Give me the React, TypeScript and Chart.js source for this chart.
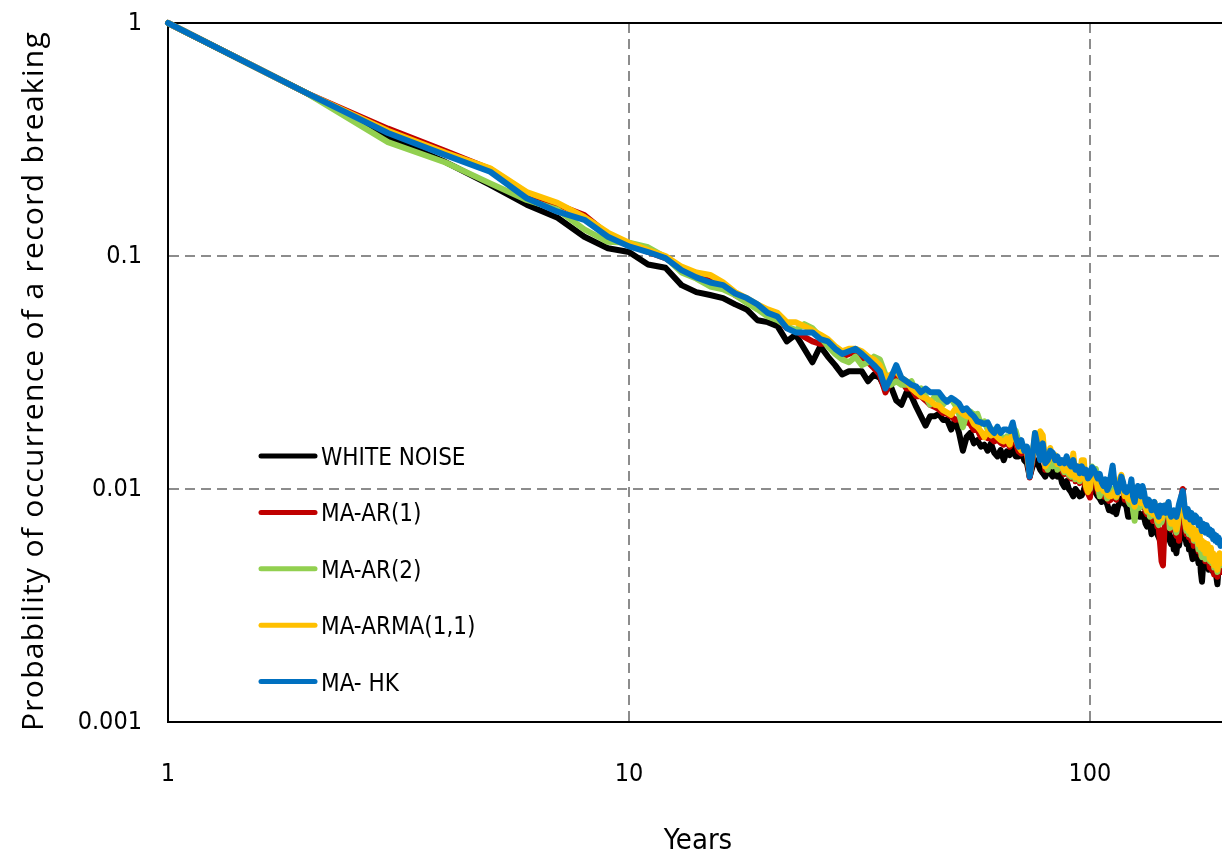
import React, { useEffect, useRef } from "react";
import { Chart, registerables } from "chart.js";

Chart.register(...registerables);

const years: number[] = Array.from({ length: 193 }, (_, i) => i + 1);

const whiteNoise = [
  1, 0.5, 0.324, 0.253, 0.202, 0.166, 0.146, 0.121, 0.108, 0.104,
  0.092, 0.089, 0.075, 0.070, 0.068, 0.066, 0.062, 0.059, 0.053, 0.052,
  0.050, 0.043, 0.046, 0.040, 0.035, 0.041, 0.037, 0.034, 0.031, 0.032,
  0.032, 0.032, 0.029, 0.031, 0.030, 0.027, 0.0275, 0.024, 0.023, 0.026,
  0.025, 0.0225, 0.0205, 0.0187, 0.0205, 0.0205, 0.021, 0.0198, 0.0198, 0.018,
  0.0198, 0.0174, 0.0146, 0.0167, 0.0174, 0.0157, 0.0162, 0.0152, 0.0155, 0.0146,
  0.0157, 0.0143, 0.0138, 0.0147, 0.0133, 0.0145, 0.014, 0.0152, 0.0138, 0.0138,
  0.0147, 0.0133, 0.0129, 0.0113, 0.0124, 0.0133, 0.0129, 0.0121, 0.0117, 0.0113,
  0.0121, 0.0117, 0.0113, 0.0125, 0.0113, 0.0117, 0.0106, 0.0102, 0.0108, 0.0100,
  0.0097, 0.0093, 0.0100, 0.0097, 0.0093, 0.0094, 0.0099, 0.0107, 0.0098, 0.0095,
  0.0101, 0.0100, 0.0096, 0.0093, 0.0091, 0.0088, 0.0093, 0.0090, 0.0086, 0.0081,
  0.0081, 0.0080, 0.0084, 0.0078, 0.0084, 0.0088, 0.0091, 0.0087, 0.0086, 0.0084,
  0.0076, 0.0076, 0.0081, 0.0078, 0.0076, 0.0078, 0.0081, 0.0076, 0.0076, 0.0078,
  0.0076, 0.0071, 0.0069, 0.0073, 0.0071, 0.0064, 0.0067, 0.0069, 0.0069, 0.0064,
  0.0062, 0.0060, 0.0060, 0.0058, 0.0064, 0.0066, 0.0071, 0.0073, 0.0060, 0.0058,
  0.0062, 0.0055, 0.0058, 0.0053, 0.0060, 0.0057, 0.0062, 0.0066, 0.0068, 0.0066,
  0.0062, 0.0058, 0.0064, 0.0055, 0.0060, 0.0053, 0.0050, 0.0056, 0.0059, 0.0057,
  0.0052, 0.0048, 0.0054, 0.0044, 0.0040, 0.0047, 0.0051, 0.0046, 0.0050, 0.0049,
  0.0045, 0.0048, 0.0052, 0.0047, 0.0044, 0.0049, 0.0046, 0.0042, 0.0039, 0.0045,
  0.0048, 0.0044, 0.0047,
];

const maAr1 = [
  1, 0.5, 0.352, 0.282, 0.236, 0.186, 0.166, 0.150, 0.124, 0.112,
  0.104, 0.098, 0.088, 0.082, 0.078, 0.075, 0.068, 0.064, 0.061, 0.057,
  0.054, 0.049, 0.048, 0.045, 0.043, 0.042, 0.042, 0.039, 0.037, 0.038,
  0.039, 0.037, 0.035, 0.033, 0.031, 0.026, 0.029, 0.031, 0.029, 0.027,
  0.027, 0.025, 0.025, 0.024, 0.023, 0.0225, 0.022, 0.0212, 0.021, 0.0205,
  0.0198, 0.020, 0.019, 0.0195, 0.019, 0.0179, 0.018, 0.0167, 0.0170, 0.0165,
  0.0165, 0.0160, 0.0163, 0.0158, 0.0155, 0.0160, 0.0152, 0.0170, 0.0158, 0.0145,
  0.0142, 0.0145, 0.0140, 0.0112, 0.0130, 0.0167, 0.0145, 0.0160, 0.0152, 0.0121,
  0.0126, 0.0145, 0.0130, 0.0135, 0.0123, 0.0125, 0.0120, 0.0116, 0.0128, 0.0114,
  0.0111, 0.0130, 0.0108, 0.0120, 0.0106, 0.0120, 0.0118, 0.0100, 0.0096, 0.0092,
  0.0115, 0.0110, 0.0108, 0.0097, 0.0105, 0.0098, 0.0093, 0.0097, 0.0091, 0.0089,
  0.0090, 0.0092, 0.0095, 0.0090, 0.0099, 0.0105, 0.0108, 0.0099, 0.0090, 0.0092,
  0.0088, 0.0087, 0.0100, 0.0085, 0.0081, 0.0087, 0.0093, 0.0085, 0.0084, 0.0092,
  0.0090, 0.0080, 0.0078, 0.0079, 0.0077, 0.0079, 0.0073, 0.0083, 0.0077, 0.0069,
  0.0068, 0.0058, 0.0049, 0.0047, 0.0066, 0.0072, 0.0080, 0.0082, 0.0070, 0.0067,
  0.0072, 0.0075, 0.0066, 0.0063, 0.0068, 0.0060, 0.0082, 0.0093, 0.0100, 0.0082,
  0.0069, 0.0064, 0.0072, 0.0062, 0.0066, 0.0060, 0.0064, 0.0057, 0.0063, 0.0062,
  0.0058, 0.0054, 0.0060, 0.0052, 0.0056, 0.0051, 0.0055, 0.0049, 0.0053, 0.0054,
  0.0050, 0.0046, 0.0052, 0.0045, 0.0049, 0.0043, 0.0048, 0.0044, 0.0042, 0.0046,
  0.0049, 0.0044, 0.0047,
];

const maAr2 = [
  1, 0.5, 0.308, 0.252, 0.205, 0.174, 0.158, 0.130, 0.115, 0.114,
  0.109, 0.099, 0.085, 0.080, 0.074, 0.072, 0.068, 0.063, 0.059, 0.055,
  0.053, 0.050, 0.048, 0.051, 0.049, 0.045, 0.041, 0.038, 0.036, 0.035,
  0.037, 0.034, 0.035, 0.037, 0.036, 0.031, 0.028, 0.029, 0.028, 0.028,
  0.029, 0.026, 0.027, 0.025, 0.023, 0.025, 0.024, 0.023, 0.024, 0.0244,
  0.023, 0.021, 0.0184, 0.021, 0.0215, 0.0208, 0.021, 0.019, 0.0195, 0.018,
  0.017, 0.018, 0.0168, 0.017, 0.0162, 0.0168, 0.0158, 0.0182, 0.0178, 0.016,
  0.0155, 0.0152, 0.0148, 0.0118, 0.014, 0.0165, 0.0155, 0.0158, 0.0150, 0.0128,
  0.0121, 0.0140, 0.0125, 0.0138, 0.0121, 0.0128, 0.0124, 0.0118, 0.0130, 0.0115,
  0.0113, 0.0135, 0.0110, 0.0122, 0.0108, 0.0124, 0.0122, 0.0108, 0.0103, 0.0100,
  0.0125, 0.0118, 0.0122, 0.0105, 0.0093, 0.0101, 0.0100, 0.0098, 0.0091, 0.0094,
  0.0096, 0.0100, 0.0095, 0.0092, 0.0098, 0.0104, 0.0109, 0.0101, 0.0094, 0.0097,
  0.0090, 0.0086, 0.0098, 0.0081, 0.0073, 0.0085, 0.0092, 0.0083, 0.0085, 0.0094,
  0.0092, 0.0083, 0.0080, 0.0083, 0.0076, 0.0080, 0.0077, 0.0085, 0.0079, 0.0072,
  0.0070, 0.0078, 0.0072, 0.0076, 0.0082, 0.0078, 0.0083, 0.0084, 0.0068, 0.0069,
  0.0074, 0.0077, 0.0069, 0.0065, 0.0070, 0.0077, 0.0083, 0.0090, 0.0094, 0.0083,
  0.0071, 0.0066, 0.0073, 0.0064, 0.0068, 0.0063, 0.0066, 0.0060, 0.0065, 0.0064,
  0.0060, 0.0055, 0.0059, 0.0054, 0.0051, 0.0056, 0.0053, 0.0050, 0.0055, 0.0056,
  0.0052, 0.0049, 0.0054, 0.0048, 0.0051, 0.0046, 0.0050, 0.0047, 0.0044, 0.0049,
  0.0052, 0.0047, 0.0050,
];

const maArma11 = [
  1, 0.5, 0.345, 0.277, 0.238, 0.188, 0.169, 0.147, 0.126, 0.114,
  0.106, 0.100, 0.090, 0.085, 0.083, 0.077, 0.070, 0.066, 0.062, 0.059,
  0.057, 0.052, 0.052, 0.050, 0.048, 0.046, 0.044, 0.041, 0.039, 0.040,
  0.040, 0.039, 0.037, 0.036, 0.034, 0.030, 0.031, 0.032, 0.030, 0.029,
  0.027, 0.026, 0.025, 0.0245, 0.024, 0.023, 0.0228, 0.0218, 0.0213, 0.0208,
  0.022, 0.0218, 0.021, 0.0205, 0.0205, 0.019, 0.0185, 0.0177, 0.0167, 0.0177,
  0.0170, 0.0172, 0.0167, 0.0162, 0.0160, 0.0165, 0.0155, 0.0177, 0.0165, 0.0152,
  0.0146, 0.0150, 0.0146, 0.0115, 0.0135, 0.0174, 0.0150, 0.0177, 0.0170, 0.0125,
  0.0130, 0.0150, 0.0135, 0.0140, 0.0128, 0.0129, 0.0125, 0.0120, 0.0133, 0.0118,
  0.0115, 0.0142, 0.0112, 0.0125, 0.0110, 0.0133, 0.0133, 0.0103, 0.0097, 0.0102,
  0.0121, 0.0115, 0.0113, 0.0100, 0.0112, 0.0103, 0.0098, 0.0100, 0.0095, 0.0093,
  0.0093, 0.0095, 0.0097, 0.0093, 0.0103, 0.0110, 0.0115, 0.0103, 0.0093, 0.0095,
  0.0091, 0.0090, 0.0105, 0.0088, 0.0084, 0.0090, 0.0097, 0.0088, 0.0087, 0.0097,
  0.0095, 0.0084, 0.0081, 0.0082, 0.0080, 0.0082, 0.0078, 0.0088, 0.0081, 0.0075,
  0.0073, 0.0081, 0.0075, 0.0079, 0.0084, 0.0081, 0.0086, 0.0086, 0.0074, 0.0071,
  0.0076, 0.0079, 0.0070, 0.0067, 0.0072, 0.0080, 0.0086, 0.0092, 0.0096, 0.0085,
  0.0072, 0.0068, 0.0075, 0.0066, 0.0070, 0.0064, 0.0068, 0.0061, 0.0067, 0.0066,
  0.0062, 0.0058, 0.0064, 0.0056, 0.0060, 0.0055, 0.0059, 0.0053, 0.0057, 0.0058,
  0.0054, 0.0050, 0.0056, 0.0049, 0.0053, 0.0047, 0.0052, 0.0048, 0.0045, 0.0050,
  0.0053, 0.0048, 0.0051,
];

const maHk = [
  1, 0.5, 0.337, 0.271, 0.230, 0.177, 0.155, 0.143, 0.121, 0.110,
  0.104, 0.098, 0.087, 0.081, 0.077, 0.075, 0.069, 0.066, 0.062, 0.057,
  0.055, 0.049, 0.047, 0.047, 0.047, 0.044, 0.043, 0.040, 0.038, 0.039,
  0.040, 0.038, 0.036, 0.034, 0.032, 0.027, 0.030, 0.034, 0.030, 0.029,
  0.028, 0.0275, 0.026, 0.027, 0.026, 0.026, 0.026, 0.0246, 0.0237, 0.0246,
  0.024, 0.0233, 0.0218, 0.0222, 0.0212, 0.0205, 0.0195, 0.0193, 0.019, 0.0193,
  0.018, 0.0174, 0.0185, 0.0174, 0.018, 0.018, 0.0177, 0.0193, 0.0167, 0.0152,
  0.0162, 0.0146, 0.0152, 0.0113, 0.0138, 0.0174, 0.0152, 0.0133, 0.0157, 0.0129,
  0.0133, 0.0146, 0.0143, 0.0133, 0.0138, 0.0129, 0.0133, 0.0129, 0.0138, 0.0129,
  0.0125, 0.0133, 0.0121, 0.0125, 0.0117, 0.0125, 0.0117, 0.0121, 0.0111, 0.0114,
  0.0124, 0.0121, 0.0116, 0.0111, 0.0116, 0.0107, 0.0103, 0.0110, 0.0099, 0.0103,
  0.0114, 0.0126, 0.0107, 0.0103, 0.0097, 0.0103, 0.0113, 0.0107, 0.0098, 0.0097,
  0.0102, 0.0099, 0.0110, 0.0093, 0.0088, 0.0097, 0.0103, 0.0099, 0.0093, 0.0103,
  0.0097, 0.0088, 0.0085, 0.0090, 0.0088, 0.0081, 0.0085, 0.0088, 0.0081, 0.0079,
  0.0076, 0.0085, 0.0079, 0.0081, 0.0085, 0.0079, 0.0081, 0.0088, 0.0079, 0.0076,
  0.0080, 0.0081, 0.0078, 0.0076, 0.0080, 0.0086, 0.0090, 0.0094, 0.0098, 0.0088,
  0.0080, 0.0076, 0.0082, 0.0077, 0.0074, 0.0079, 0.0075, 0.0072, 0.0077, 0.0076,
  0.0073, 0.0070, 0.0074, 0.0069, 0.0066, 0.0071, 0.0068, 0.0065, 0.0070, 0.0068,
  0.0064, 0.0067, 0.0063, 0.0066, 0.0061, 0.0064, 0.0060, 0.0063, 0.0059, 0.0062,
  0.0060, 0.0057, 0.0060,
];

const seriesNames = ["WHITE NOISE", "MA-AR(1)", "MA-AR(2)", "MA-ARMA(1,1)", "MA- HK"];
const seriesColors = ["#000000", "#C00000", "#92D050", "#FFC000", "#0070C0"];
const seriesValues = [whiteNoise, maAr1, maAr2, maArma11, maHk];

const xTickValues = [1, 10, 100];
const xTickLabels = ["1", "10", "100"];
const yTickValues = [0.001, 0.01, 0.1, 1];
const yTickLabels = ["0.001", "0.01", "0.1", "1"];
const xTitle = "Years";
const yTitle = "Probability of occurrence of a record breaking";

const NARROW = '"DejaVu Sans Condensed", "Liberation Sans Narrow", sans-serif';

const overlayPlugin = {
  id: "overlay",
  beforeDatasetsDraw(chart: any) {
    const { ctx, chartArea } = chart;
    ctx.save();
    ctx.strokeStyle = "#000000";
    ctx.lineWidth = 2;
    ctx.beginPath();
    ctx.moveTo(chartArea.left - 1, chartArea.top);
    ctx.lineTo(chartArea.right, chartArea.top);
    ctx.stroke();
    ctx.restore();
  },
  afterDraw(chart: any) {
    const { ctx, chartArea } = chart;
    ctx.save();
    // legend
    const lx0 = chartArea.left + 93;
    const lx1 = chartArea.left + 147;
    const ty = chartArea.top + 433;
    const step = 56.4;
    ctx.font = `24px ${NARROW}`;
    ctx.textAlign = "left";
    ctx.textBaseline = "alphabetic";
    seriesNames.forEach((name, i) => {
      const y = ty + i * step;
      ctx.strokeStyle = seriesColors[i];
      ctx.lineWidth = 5;
      ctx.lineCap = "round";
      ctx.beginPath();
      ctx.moveTo(lx0, y);
      ctx.lineTo(lx1, y);
      ctx.stroke();
      ctx.fillStyle = "#000000";
      ctx.fillText(name, lx1 + 6, y + 9);
    });
    // x title
    ctx.font = `29px ${NARROW}`;
    ctx.textAlign = "center";
    ctx.fillText(xTitle, 698, 849);
    // y title
    ctx.save();
    ctx.translate(43, 381);
    ctx.rotate(-Math.PI / 2);
    ctx.font = '30px "Open Sans", sans-serif';
    try {
      (ctx as any).letterSpacing = "1.3px";
    } catch (e) {}
    ctx.textAlign = "center";
    ctx.fillText(yTitle, 0, 0);
    ctx.restore();
    ctx.restore();
  },
};

export default function App() {
  const canvasRef = useRef<HTMLCanvasElement | null>(null);

  useEffect(() => {
    const canvas = canvasRef.current;
    if (!canvas) return;
    const chart = new Chart(canvas, {
      type: "line",
      data: {
        datasets: seriesValues.map((vals, i) => ({
          label: seriesNames[i],
          data: vals.map((v, j) => ({ x: years[j], y: v })),
          borderColor: seriesColors[i],
          backgroundColor: seriesColors[i],
          borderWidth: 6,
          pointRadius: 0,
          tension: 0,
          fill: false,
          borderJoinStyle: "round",
          borderCapStyle: "round",
          order: seriesNames.length - i,
          clip: false,
        })),
      },
      options: {
        animation: false,
        responsive: false,
        devicePixelRatio: 1,
        layout: { padding: 0 },
        plugins: {
          legend: { display: false },
          tooltip: { enabled: false },
          title: { display: false },
        },
        scales: {
          x: {
            type: "logarithmic",
            min: 1,
            max: 193.4,
            afterBuildTicks: (scale: any) => {
              scale.ticks = xTickValues.map((v) => ({ value: v }));
            },
            afterFit: (scale: any) => {
              scale.height = 131;
              scale.paddingLeft = 0;
              scale.paddingRight = 0;
            },
            ticks: {
              autoSkip: false,
              maxRotation: 0,
              padding: 37,
              color: "#000000",
              font: { family: NARROW, size: 25 },
              callback: (value: any) => {
                const idx = xTickValues.indexOf(Number(value));
                return idx >= 0 ? xTickLabels[idx] : "";
              },
            },
            grid: {
              color: "#8c8c8c",
              lineWidth: 2,
              drawTicks: false,
            },
            border: { display: true, color: "#000000", width: 2, dash: [10, 6] },
            title: { display: false },
          },
          y: {
            type: "logarithmic",
            min: 0.001,
            max: 1,
            afterBuildTicks: (scale: any) => {
              scale.ticks = yTickValues.map((v) => ({ value: v }));
            },
            afterFit: (scale: any) => {
              scale.width = 168;
              scale.paddingTop = 23;
              scale.paddingBottom = 0;
            },
            ticks: {
              autoSkip: false,
              padding: 26,
              color: "#000000",
              font: { family: NARROW, size: 25 },
              callback: (value: any) => {
                const idx = yTickValues.findIndex((v) => Math.abs(v - Number(value)) < v * 1e-6);
                return idx >= 0 ? yTickLabels[idx] : "";
              },
            },
            grid: {
              color: "#8c8c8c",
              lineWidth: 2,
              drawTicks: false,
            },
            border: { display: true, color: "#000000", width: 2, dash: [10, 6] },
            title: { display: false },
          },
        },
      },
      plugins: [overlayPlugin],
    } as any);
    return () => chart.destroy();
  }, []);

  return (
    <div style={{ position: "absolute", left: 0, top: 0, width: 1222, height: 853, background: "#ffffff" }}>
      <canvas ref={canvasRef} width={1222} height={853} style={{ width: 1222, height: 853, display: "block" }} />
    </div>
  );
}
